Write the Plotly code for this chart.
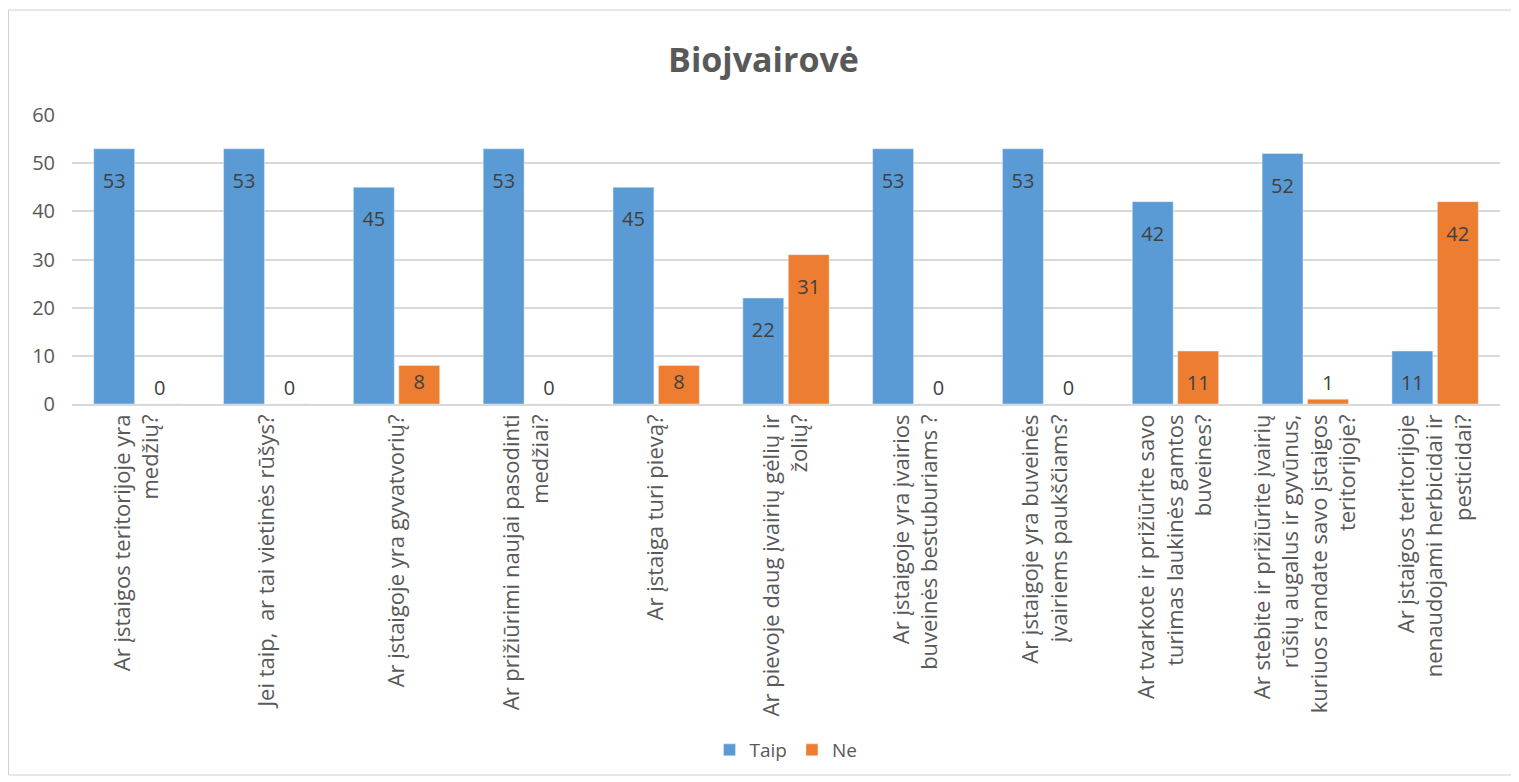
import plotly.graph_objects as go

categories = [
    "Ar įstaigos teritorijoje yra<br>medžių?",
    "Jei taip,  ar tai vietinės rūšys?",
    "Ar įstaigoje yra gyvatvorių?",
    "Ar prižiūrimi naujai pasodinti<br>medžiai?",
    "Ar įstaiga turi pievą?",
    "Ar pievoje daug įvairių gėlių ir<br>žolių?",
    "Ar įstaigoje yra įvairios<br>buveinės bestuburiams ?",
    "Ar įstaigoje yra buveinės<br>įvairiems paukščiams?",
    "Ar tvarkote ir prižiūrite savo<br>turimas laukinės gamtos<br>buveines?",
    "Ar stebite ir prižiūrite įvairių<br>rūšių augalus ir gyvūnus,<br>kuriuos randate savo įstaigos<br>teritorijoje?",
    "Ar įstaigos teritorijoje<br>nenaudojami herbicidai ir<br>pesticidai?",
]
taip = [53, 53, 45, 53, 45, 22, 53, 53, 42, 52, 11]
ne = [0, 0, 8, 0, 8, 31, 0, 0, 11, 1, 42]
y_ticks = [0, 10, 20, 30, 40, 50, 60]

FONT = "Open Sans"
TXT = "#404040"
PADDED = "<span style='font-size:9px'> </span><br>%{y}"
PLAIN = "%{y}"

def positions(vals):
    return ["inside" if v >= 5 else "outside" for v in vals]

def templates(vals):
    # short bars (that still hold their label) get no extra top padding
    return [PLAIN if 5 <= v < 10 else PADDED for v in vals]

fig = go.Figure()
fig.add_trace(go.Bar(
    name="Taip", x=categories, y=taip,
    marker=dict(color="#5B9BD5"),
    texttemplate=templates(taip), textposition=positions(taip), insidetextanchor="end",
    textangle=0, constraintext="none",
    textfont=dict(family=FONT, size=20, color=TXT),
))
fig.add_trace(go.Bar(
    name="Ne", x=categories, y=ne,
    marker=dict(color="#ED7D31"),
    texttemplate=templates(ne), textposition=positions(ne), insidetextanchor="end",
    textangle=0, constraintext="none",
    textfont=dict(family=FONT, size=20, color=TXT),
))

# page body has an 8px margin, so shift the figure frame accordingly
OFF = 8
plot_l, plot_r, plot_t, plot_b = 72 - OFF, 1500 - OFF, 115 - OFF, 404 - OFF
W, H = 1519 - OFF, 782 - OFF
pw = plot_r - plot_l
ph = plot_b - plot_t

fig.update_layout(
    width=W, height=H,
    margin=dict(l=plot_l, r=W - plot_r, t=plot_t, b=H - plot_b, autoexpand=False),
    paper_bgcolor="white", plot_bgcolor="white",
    barmode="group", bargap=0.3, bargroupgap=0.1,
    title=dict(text="<b>Biojvairovė</b>", x=0.5, xanchor="center",
               y=1 - (60 - OFF) / H, yanchor="middle",
               font=dict(family=FONT, size=34, color="#595959")),
    font=dict(family=FONT, color="#595959"),
    legend=dict(orientation="h", x=0.5, xanchor="center", y=(plot_b - (750 - OFF)) / ph,
                yanchor="middle", font=dict(family=FONT, size=19, color="#595959"),
                itemwidth=30, traceorder="normal"),
    xaxis=dict(tickangle=-90, tickfont=dict(family=FONT, size=22, color="#595959"),
               showline=True, linecolor="#D9D9D9", linewidth=1.5, ticks="",
               automargin=False),
    yaxis=dict(range=[0, 60], tickvals=y_ticks, showgrid=True, gridcolor="#D9D9D9",
               gridwidth=1.5, zeroline=False, ticks="", ticklabelstandoff=16,
               tickfont=dict(family=FONT, size=20, color="#595959"),
               automargin=False),
    shapes=[dict(type="rect", xref="paper", yref="paper",
                 x0=(0.5 - plot_l) / pw, x1=(1503.5 - plot_l) / pw,
                 y0=(plot_b - (775 - OFF)) / ph, y1=(plot_b - (10 - OFF)) / ph,
                 line=dict(color="#D0D0D0", width=1), layer="below")],
)

fig.write_html("out.html")
